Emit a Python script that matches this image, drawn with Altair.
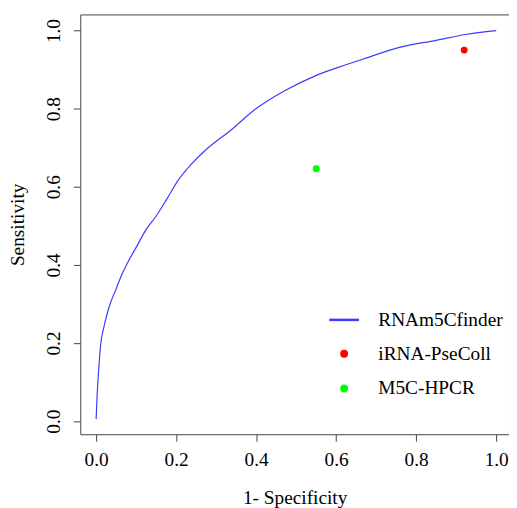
import altair as alt
import pandas as pd

# ROC curve of RNAm5Cfinder
fpr = [0.0, 0.0025, 0.006, 0.011, 0.02, 0.033, 0.049, 0.066, 0.082, 0.103,
       0.124, 0.148, 0.177, 0.204, 0.24, 0.28, 0.338, 0.396, 0.47, 0.552,
       0.626, 0.676, 0.758, 0.85, 0.923, 1.0]
tpr = [0.005, 0.066, 0.125, 0.193, 0.243, 0.294, 0.336, 0.379, 0.412, 0.45,
       0.489, 0.522, 0.569, 0.615, 0.66, 0.70, 0.746, 0.797, 0.845, 0.886,
       0.913, 0.93, 0.957, 0.975, 0.99, 1.0]

methods = ["RNAm5Cfinder", "iRNA-PseColl", "M5C-HPCR"]
method_colors = ["#3c3cff", "#ff0000", "#00ff00"]
method_shapes = ["stroke", "circle", "circle"]
method_sizes = [900, 30, 30]

point_methods = ["iRNA-PseColl", "M5C-HPCR"]
point_x = [0.92, 0.55]
point_y = [0.95, 0.646]

tick_values = [0.0, 0.2, 0.4, 0.6, 0.8, 1.0]

curve_df = pd.DataFrame({"fpr": fpr, "tpr": tpr, "idx": list(range(len(fpr)))})
pts_df = pd.DataFrame({"method": point_methods, "fpr": point_x, "tpr": point_y})

FONT = "Liberation Serif"
FS = 19.5
AXC = "#444444"

xscale = alt.Scale(domain=[-0.0396, 1.032], nice=False, zero=False)
yscale = alt.Scale(domain=[-0.0337, 1.0413], nice=False, zero=False)

xaxis = alt.Axis(values=tick_values, format=".1f", title="1- Specificity", grid=False,
                 domain=False, tickSize=7, tickColor=AXC, labelFont=FONT, labelFontSize=FS,
                 labelColor="black", labelFlush=False, labelPadding=10,
                 titleFont=FONT, titleFontSize=FS, titleFontWeight="normal",
                 titleColor="black", titlePadding=19)
yaxis = alt.Axis(values=tick_values, format=".1f", title="Sensitivity", grid=False,
                 domain=False, tickSize=7, tickColor=AXC, labelFont=FONT, labelFontSize=FS,
                 labelColor="black", labelFlush=False, labelAngle=270, labelPadding=10,
                 titleFont=FONT, titleFontSize=FS, titleFontWeight="normal",
                 titleColor="black", titlePadding=16)

leg = alt.Legend(title=None, orient="none", legendX=250, legendY=292, padding=0,
                 labelFont=FONT, labelFontSize=FS, labelColor="black", labelOffset=18,
                 rowPadding=14, symbolStrokeWidth=2.5)

line = alt.Chart(curve_df).mark_line(color="#3c3cff", strokeWidth=1.2, interpolate="monotone").encode(
    x=alt.X("fpr:Q", scale=xscale, axis=xaxis),
    y=alt.Y("tpr:Q", scale=yscale, axis=yaxis),
    order=alt.Order("idx:Q"),
)

points = alt.Chart(pts_df).mark_point(filled=True, opacity=1, strokeWidth=1.5).encode(
    x=alt.X("fpr:Q", scale=xscale),
    y=alt.Y("tpr:Q", scale=yscale),
    fill=alt.Fill("method:N", scale=alt.Scale(domain=methods, range=method_colors), legend=leg),
    stroke=alt.Stroke("method:N", scale=alt.Scale(domain=methods, range=method_colors), legend=leg),
    shape=alt.Shape("method:N", scale=alt.Scale(domain=methods, range=method_shapes), legend=leg),
    size=alt.Size("method:N", scale=alt.Scale(type="ordinal", domain=methods, range=method_sizes), legend=leg),
)

chart = alt.layer(line, points).properties(
    width=433, height=424,
    autosize=alt.AutoSizeParams(type="none"),
    padding={"left": 73, "top": 4, "right": 0, "bottom": 72},
    background="white",
).configure_view(stroke=AXC, strokeWidth=1)

chart.save("out.html", embed_options={"renderer": "svg", "actions": False})
